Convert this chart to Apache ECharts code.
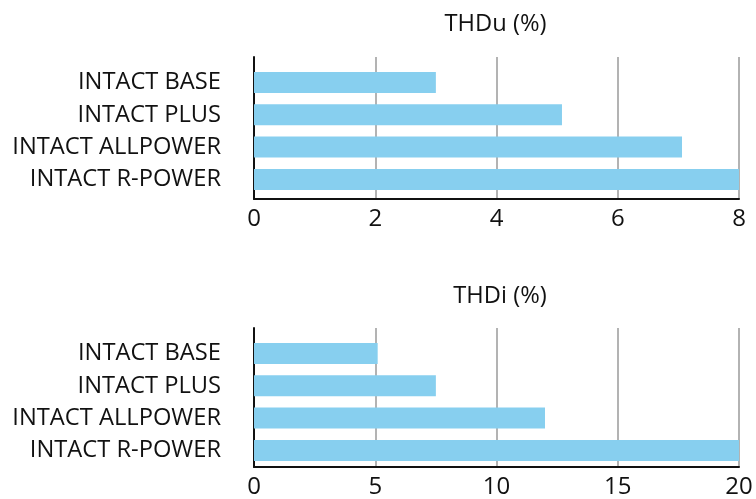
<!DOCTYPE html>
<html>
<head>
<meta charset="utf-8">
<script src="https://cdn.jsdelivr.net/npm/echarts@6/dist/echarts.min.js"></script>
<style>
html,body{margin:0;padding:0;background:#fff;}
#chart{width:756px;height:499px;}
</style>
</head>
<body>
<div id="chart"></div>
<script>
const categories = ['INTACT BASE', 'INTACT PLUS', 'INTACT ALLPOWER', 'INTACT R-POWER'];
const thduValues = [3.0, 5.08, 7.06, 8.0];
const thdiValues = [5.1, 7.5, 12.0, 20.0];
const thduTicks = {min: 0, max: 8, interval: 2};
const thdiTicks = {min: 0, max: 20, interval: 5};
const titles = ['THDu (%)', 'THDi (%)'];

const FONT = '"Open Sans", sans-serif';
const FS = 23.7;
const TICK_FS = 24;
const BAR_COLOR = '#87cfef';
const GRID_COLOR = '#b3b3b3';
const AXIS_COLOR = '#111';

const chart = echarts.init(document.getElementById('chart'));

function panel(idx, outerTop, barTop, ticks) {
  const g = idx * 2;
  return {
    grids: [
      {left: 254, right: 17, top: outerTop, height: 142},
      {left: 254, right: 17, top: barTop, height: 129.3}
    ],
    xAxes: [
      {gridIndex: g, type: 'value', min: ticks.min, max: ticks.max, interval: ticks.interval,
       axisLine: {show: true, lineStyle: {color: AXIS_COLOR, width: 2}},
       axisTick: {show: false},
       splitLine: {show: true, lineStyle: {color: GRID_COLOR, width: 2}},
       axisLabel: {fontFamily: FONT, fontSize: TICK_FS, color: '#111', margin: 8}},
      {gridIndex: g + 1, type: 'value', min: ticks.min, max: ticks.max,
       show: false, splitLine: {show: false}}
    ],
    yAxes: [
      {gridIndex: g, type: 'category', data: categories, inverse: true,
       axisLine: {show: true, onZero: false, lineStyle: {color: AXIS_COLOR, width: 2}},
       axisTick: {show: false}, axisLabel: {show: false}, splitLine: {show: false}},
      {gridIndex: g + 1, type: 'category', data: categories, inverse: true,
       axisLine: {show: false}, axisTick: {show: false}, splitLine: {show: false},
       axisLabel: {fontFamily: FONT, fontSize: FS, color: '#111', margin: 33}}
    ]
  };
}

const p1 = panel(0, 57, 66.3, thduTicks);
const p2 = panel(1, 328, 337.3, thdiTicks);

chart.setOption({
  animation: false,
  backgroundColor: '#fff',
  grid: [...p1.grids, ...p2.grids],
  xAxis: [...p1.xAxes, ...p2.xAxes],
  yAxis: [...p1.yAxes, ...p2.yAxes],
  graphic: [
    {type: 'text', x: 495.5, y: 24, style: {text: titles[0], font: FS + 'px ' + FONT, fill: '#111', align: 'center', verticalAlign: 'middle'}},
    {type: 'text', x: 500, y: 296, style: {text: titles[1], font: FS + 'px ' + FONT, fill: '#111', align: 'center', verticalAlign: 'middle'}}
  ],
  series: [
    {type: 'bar', xAxisIndex: 1, yAxisIndex: 1, data: thduValues, barWidth: 21,
     itemStyle: {color: BAR_COLOR}, z: 3},
    {type: 'bar', xAxisIndex: 3, yAxisIndex: 3, data: thdiValues, barWidth: 21,
     itemStyle: {color: BAR_COLOR}, z: 3}
  ]
});
</script>
</body>
</html>
